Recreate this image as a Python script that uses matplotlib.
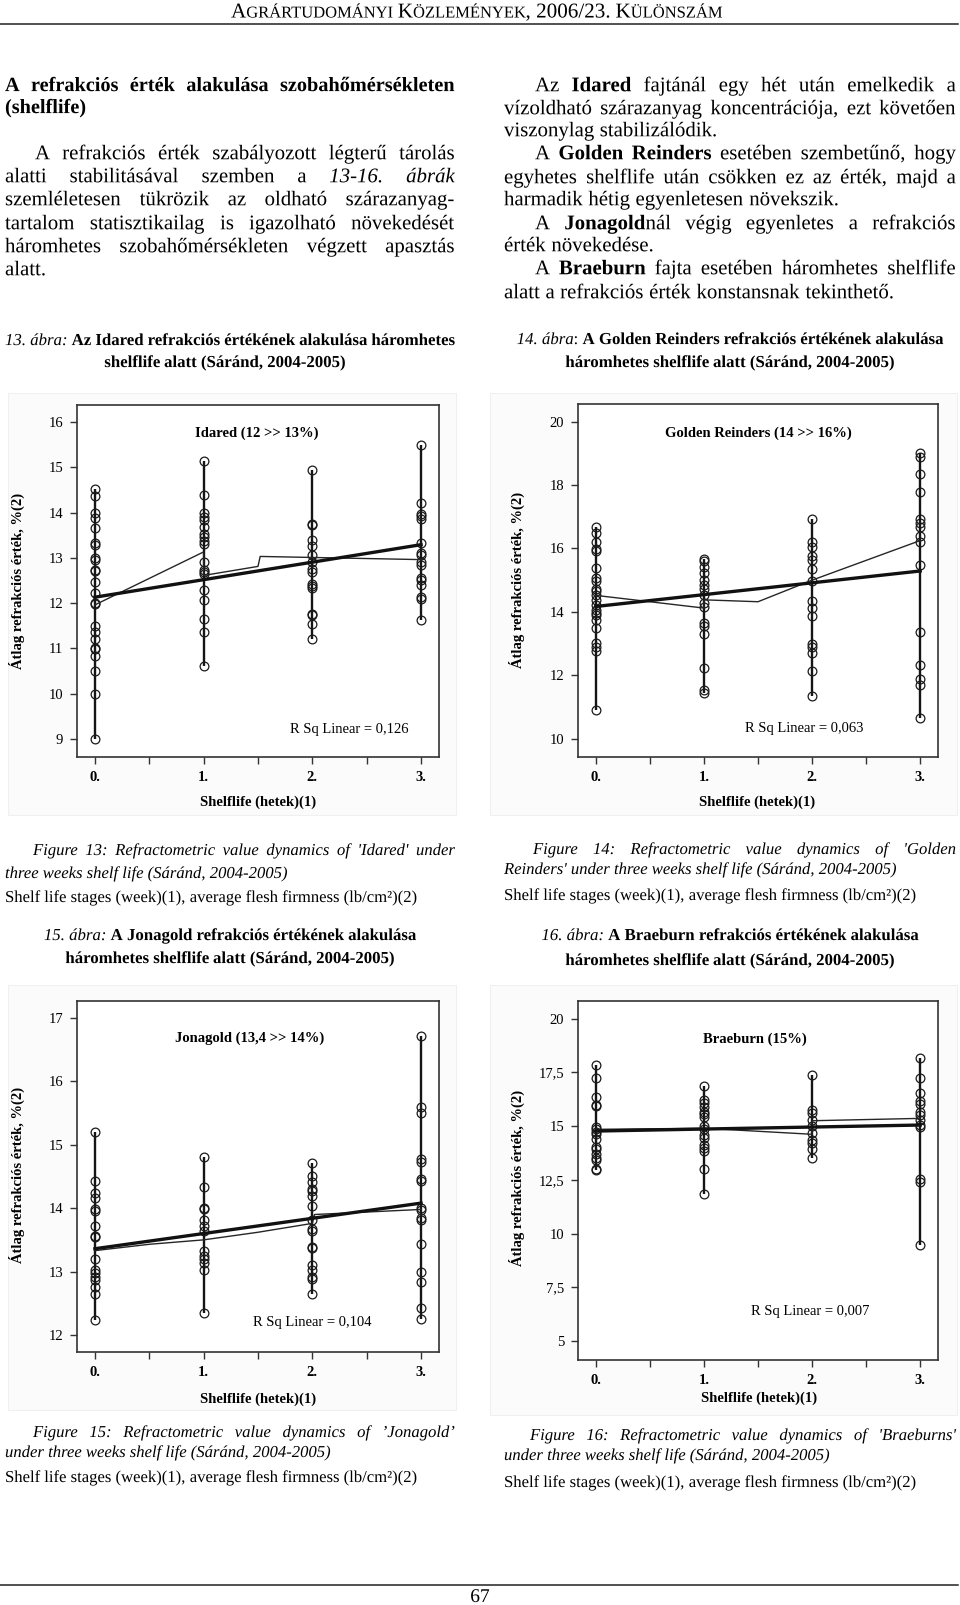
import matplotlib
matplotlib.use("Agg")
import matplotlib.pyplot as plt
from matplotlib.patches import Rectangle, PathPatch
from matplotlib.textpath import TextPath
from matplotlib.font_manager import FontProperties
from matplotlib.transforms import Affine2D

W, H = 960, 1605
SERIF = ["Liberation Serif", "DejaVu Serif"]

# ---------------------------------------------------------------- data
WEEKS = [0, 1, 2, 3]
XTICKS = [0, 0.5, 1, 1.5, 2, 2.5, 3]
XTICK_LABELS = ["0.", "", "1.", "", "2.", "", "3."]

IDARED = [
    [14.53, 14.36, 14.00, 13.87, 13.65, 13.32, 13.29, 12.99, 12.95, 12.74, 12.71, 12.46,
     12.23, 12.00, 11.98, 11.50, 11.36, 11.20, 11.00, 10.99, 10.84, 10.49, 10.00, 9.00],
    [15.13, 14.39, 14.00, 13.91, 13.83, 13.68, 13.52, 13.45, 13.36, 13.30, 12.91, 12.74,
     12.68, 12.64, 12.29, 12.07, 11.64, 11.36, 10.62],
    [14.95, 13.74, 13.72, 13.40, 13.27, 13.07, 12.90, 12.76, 12.68, 12.42, 12.37, 12.33,
     11.76, 11.73, 11.54, 11.20],
    [15.50, 14.22, 13.97, 13.93, 13.86, 13.33, 13.10, 13.06, 12.90, 12.85, 12.56, 12.50,
     12.40, 12.13, 12.09, 11.63],
]
IDARED_FIT = [12.13, 13.29]
IDARED_MEAN_X = [0, 1, 1, 1.5, 1.52, 3]
IDARED_MEAN_Y = [11.96, 13.13, 12.61, 12.81, 13.03, 12.96]

GOLDEN = [
    [16.69, 16.50, 16.19, 15.98, 15.93, 15.40, 15.06, 14.99, 14.73, 14.66, 14.52, 14.36,
     14.22, 14.07, 13.98, 13.91, 13.75, 13.50, 13.01, 12.89, 12.78, 10.89],
    [15.67, 15.59, 15.43, 15.22, 15.01, 14.85, 14.72, 14.54, 14.28, 14.15, 13.64, 13.54,
     13.31, 12.23, 11.52, 11.44],
    [16.92, 16.19, 16.06, 15.77, 15.64, 15.35, 14.96, 14.33, 14.12, 13.86, 13.00, 12.89,
     12.70, 12.12, 11.33],
    [19.02, 18.90, 18.34, 17.79, 16.92, 16.80, 16.67, 16.38, 16.19, 15.48, 13.35, 12.33,
     11.89, 11.70, 10.65],
]
GOLDEN_FIT = [14.17, 15.29]
GOLDEN_MEAN_X = [0, 1, 1, 1.5, 2, 3]
GOLDEN_MEAN_Y = [14.52, 14.12, 14.38, 14.32, 15.00, 16.25]

JONAGOLD = [
    [15.20, 14.43, 14.24, 14.16, 13.99, 13.96, 13.72, 13.56, 13.55, 13.20, 13.02, 12.98,
     12.91, 12.87, 12.76, 12.65, 12.23],
    [14.80, 14.33, 14.00, 13.99, 13.82, 13.72, 13.64, 13.32, 13.24, 13.19, 13.13, 13.03,
     12.34],
    [14.71, 14.51, 14.41, 14.30, 14.27, 14.20, 14.03, 13.81, 13.67, 13.64, 13.39, 13.37,
     13.10, 13.03, 12.92, 12.89, 12.65],
    [16.71, 15.59, 15.50, 14.77, 14.73, 14.46, 14.43, 14.01, 13.97, 13.85, 13.81, 13.43,
     13.00, 12.83, 12.42, 12.25],
]
JONAGOLD_FIT = [13.36, 14.08]
JONAGOLD_MEAN_X = [0, 0.5, 1, 1.5, 2, 2.02, 3]
JONAGOLD_MEAN_Y = [13.33, 13.43, 13.50, 13.62, 13.76, 13.90, 13.98]

BRAEBURN = [
    [17.84, 17.25, 16.35, 16.00, 15.95, 14.97, 14.85, 14.74, 14.62, 14.38, 14.04, 13.95,
     13.70, 13.53, 13.44, 12.99, 12.96],
    [16.87, 16.22, 16.06, 15.91, 15.67, 15.56, 15.41, 15.01, 14.85, 14.59, 14.43, 14.12,
     13.97, 13.84, 12.99, 11.83],
    [17.36, 15.75, 15.63, 15.28, 15.01, 14.66, 14.35, 14.20, 13.92, 13.53],
    [18.15, 17.25, 16.53, 16.17, 16.01, 15.67, 15.52, 15.28, 15.05, 14.97, 12.52, 12.41,
     9.47],
]
BRAEBURN_FIT = [14.77, 15.05]
BRAEBURN_MEAN_X = [0, 1, 2, 2, 3]
BRAEBURN_MEAN_Y = [14.85, 14.90, 14.62, 15.25, 15.36]

fig = plt.figure(figsize=(W / 100, H / 100), dpi=100)
renderer = fig.canvas.get_renderer()


# ---------------------------------------------------------------- text helpers (pixel coords, y from top)
def fprop(bold=False, italic=False):
    return FontProperties(family=SERIF, weight="bold" if bold else "normal",
                          style="italic" if italic else "normal")


def put(s, x, y, size, bold=False, italic=False, **kw):
    return fig.text(x / W, 1 - y / H, s, fontsize=size, fontproperties=None,
                    family=SERIF, fontweight="bold" if bold else "normal",
                    fontstyle="italic" if italic else "normal",
                    ha=kw.pop("ha", "left"), va=kw.pop("va", "baseline"), **kw)


def text_w(s, size, bold=False, italic=False):
    t = put(s, 0, 0, size, bold, italic)
    w = t.get_window_extent(renderer).width
    t.remove()
    return w


def glyphs(s, x, yb, size, bold=False, italic=False):
    """Draw a run as outline glyphs with its baseline exactly at pixel row yb."""
    tp = TextPath((0, 0), s, size=size * 100 / 72, prop=fprop(bold, italic))
    fig.add_artist(PathPatch(tp, transform=Affine2D().translate(x, H - yb),
                             fc="black", ec="none", lw=0))


def parse(line):
    """'*' toggles bold, '_' toggles italic; returns words as lists of runs."""
    words, cur, buf = [], [], ""
    b = i = False
    for ch in line + " ":
        if ch in "*_ " and buf:
            cur.append((buf, b, i))
            buf = ""
        if ch == "*":
            b = not b
        elif ch == "_":
            i = not i
        elif ch == " ":
            if cur:
                words.append(cur)
            cur = []
        else:
            buf += ch
    return words


def draw_line(line, y, size, x0, x1=None, mode="left"):
    words = parse(line)
    widths = [sum(text_w(t, size, b, i) for t, b, i in w) for w in words]
    if mode == "justify":
        gap = (x1 - x0 - sum(widths)) / (len(words) - 1)
    else:
        gap = text_w("a a", size) - text_w("aa", size)
    total = sum(widths) + gap * (len(words) - 1)
    x = x0 - total / 2 if mode == "center" else x0
    base = y + 0.3 * size * 100 / 72
    for w, ww in zip(words, widths):
        xx = x
        for t, b, i in w:
            glyphs(t, xx, base, size, b, i)
            xx += text_w(t, size, b, i)
        x += ww + gap


def small_caps(line, x, y, big, small):
    space = text_w("a a", big) - text_w("aa", big)
    for word in line.split(" "):
        runs, cur, cur_small = [], "", None
        for ch in word:
            is_small = ch.islower()
            if cur and is_small != cur_small:
                runs.append((cur, cur_small))
                cur = ""
            cur += ch.upper()
            cur_small = is_small
        runs.append((cur, cur_small))
        for t, sm in runs:
            glyphs(t, x, y, small if sm else big)
            x += text_w(t, small if sm else big)
        x += space


# ---------------------------------------------------------------- page furniture
small_caps("Agrártudományi Közlemények, 2006/23. Különszám", 231, 17.5, 15.2, 11.9)
fig.add_artist(plt.Line2D([0, 958 / W], [1 - 24 / H] * 2, color="#222", lw=1.1))
fig.add_artist(plt.Line2D([0, 958 / W], [1 - 1585 / H] * 2, color="#222", lw=1.1))
glyphs("67", 480 - text_w("67", 14) / 2, 1602, 14)

BODY = 15
HEAD = 14.6
draw_line("*A refrakciós érték alakulása szobahőmérsékleten*", 85, HEAD, 5, 455, "justify")
draw_line("*(shelflife)*", 107, HEAD, 5)
draw_line("A refrakciós érték szabályozott légterű tárolás", 153, BODY, 35, 455, "justify")
draw_line("alatti stabilitásával szemben a _13-16. ábrák_", 176, BODY, 5, 455, "justify")
draw_line("szemléletesen tükrözik az oldható szárazanyag-", 199, BODY, 5, 455, "justify")
draw_line("tartalom statisztikailag is igazolható növekedését", 223, BODY, 5, 455, "justify")
draw_line("háromhetes szobahőmérsékleten végzett apasztás", 246, BODY, 5, 455, "justify")
draw_line("alatt.", 269, BODY, 5)

draw_line("Az *Idared* fajtánál egy hét után emelkedik a", 85, BODY, 535, 956, "justify")
draw_line("vízoldható szárazanyag koncentrációja, ezt követően", 108, BODY, 504, 956, "justify")
draw_line("viszonylag stabilizálódik.", 130, BODY, 504)
draw_line("A *Golden Reinders* esetében szembetűnő, hogy", 153, BODY, 535, 956, "justify")
draw_line("egyhetes shelflife után csökken ez az érték, majd a", 177, BODY, 504, 956, "justify")
draw_line("harmadik hétig egyenletesen növekszik.", 199, BODY, 504)
draw_line("A *Jonagold*nál végig egyenletes a refrakciós", 223, BODY, 535, 956, "justify")
draw_line("érték növekedése.", 245, BODY, 504)
draw_line("A *Braeburn* fajta esetében háromhetes shelflife", 268, BODY, 535, 956, "justify")
draw_line("alatt a refrakciós érték konstansnak tekinthető.", 292, BODY, 504)

CAP = 12.1
draw_line("_13. ábra:_ *Az Idared refrakciós értékének alakulása háromhetes*", 340, CAP, 5, 455, "justify")
draw_line("*shelflife alatt (Sáránd, 2004-2005)*", 362, CAP, 225, mode="center")
draw_line("_14. ábra_: *A Golden Reinders refrakciós értékének alakulása*", 339, CAP, 730, mode="center")
draw_line("*háromhetes shelflife alatt (Sáránd, 2004-2005)*", 362, CAP, 730, mode="center")
draw_line("_15. ábra:_ *A Jonagold refrakciós értékének alakulása*", 935, CAP, 230, mode="center")
draw_line("*háromhetes shelflife alatt (Sáránd, 2004-2005)*", 958, CAP, 230, mode="center")
draw_line("_16. ábra:_ *A Braeburn refrakciós értékének alakulása*", 935, CAP, 730, mode="center")
draw_line("*háromhetes shelflife alatt (Sáránd, 2004-2005)*", 960, CAP, 730, mode="center")

EN = 12
UNITS = "Shelf life stages (week)(1),  average flesh firmness (lb/cm²)(2)"
draw_line("_Figure 13: Refractometric value dynamics of 'Idared' under_", 850, EN, 33, 455, "justify")
draw_line("_three weeks shelf life (Sáránd, 2004-2005)_", 873, EN, 5)
draw_line(UNITS, 897, EN, 5)
draw_line("_Figure 14: Refractometric value dynamics of 'Golden_", 849, EN, 533, 956, "justify")
draw_line("_Reinders' under three weeks shelf life (Sáránd, 2004-2005)_", 869, EN, 504)
draw_line(UNITS, 895, EN, 504)
draw_line("_Figure 15: Refractometric value dynamics of ’Jonagold’_", 1432, EN, 33, 455, "justify")
draw_line("_under three weeks shelf life (Sáránd, 2004-2005)_", 1452, EN, 5)
draw_line(UNITS, 1477, EN, 5)
draw_line("_Figure 16: Refractometric value dynamics of 'Braeburns'_", 1435, EN, 530, 956, "justify")
draw_line("_under three weeks shelf life (Sáránd, 2004-2005)_", 1455, EN, 504)
draw_line(UNITS, 1482, EN, 504)


# ---------------------------------------------------------------- charts
def chart(rect, frame, data, fit, mean_x, mean_y, ylim, yticks, ylabels,
          title, title_pos, rsq, rsq_pos, ylab_xy, xlab_xy):
    fl, ft, fr, fb = frame
    fig.add_artist(Rectangle((fl / W, 1 - fb / H), (fr - fl) / W, (fb - ft) / H,
                             transform=fig.transFigure, facecolor="#fbfbfb",
                             edgecolor="#f0f0f0", lw=0.8, zorder=0))
    l, t, r, b = rect
    ax = fig.add_axes([l / W, 1 - b / H, (r - l) / W, (b - t) / H])
    for wk, vals in zip(WEEKS, data):
        ax.vlines(wk, min(vals), max(vals), color="#151515", lw=1.7, zorder=2)
        ax.plot([wk] * len(vals), vals, "o", mfc="none", mec="#1a1a1a", ms=6.3,
                mew=0.9, zorder=3)
    ax.plot(mean_x, mean_y, color="#262626", lw=1.0, zorder=4)
    ax.plot([WEEKS[0], WEEKS[-1]], fit, color="#111", lw=2.4, zorder=4)
    ax.set_xlim(-0.165, 3.165)
    ax.set_ylim(ylim)
    ax.set_xticks(XTICKS)
    ax.set_xticklabels(XTICK_LABELS, fontsize=10.5, fontweight="bold", family=SERIF)
    ax.set_yticks(yticks)
    ax.set_yticklabels(ylabels, fontsize=10.5, family=SERIF)
    ax.tick_params(direction="out", length=5, width=1, color="#333", pad=5)
    for s in ax.spines.values():
        s.set_linewidth(1.2)
        s.set_color("#333")
    ax.text(*title_pos, title, transform=ax.transAxes, ha="center", va="center",
            fontsize=10.5, fontweight="bold", family=SERIF,
            bbox=dict(fc="white", ec="none", pad=2))
    ax.text(*rsq_pos, rsq, transform=ax.transAxes, ha="center", va="center",
            fontsize=10.5, family=SERIF, bbox=dict(fc="white", ec="none", pad=2))
    put("Átlag refrakciós érték, %(2)", ylab_xy[0], ylab_xy[1], 10.5, bold=True,
        rotation=90, ha="center", va="center")
    put("Shelflife (hetek)(1)", xlab_xy[0], xlab_xy[1], 10.5, bold=True,
        ha="center", va="center")
    return ax


chart((77, 405, 439, 757), (8, 393, 456, 815), IDARED, IDARED_FIT,
      IDARED_MEAN_X, IDARED_MEAN_Y, (8.6, 16.375),
      [9, 10, 11, 12, 13, 14, 15, 16], ["9", "10", "11", "12", "13", "14", "15", "16"],
      "Idared (12 >> 13%)", (0.497, 0.92), "R Sq Linear = 0,126", (0.751, 0.077),
      (17, 581), (258, 802))
chart((578, 404, 938, 757), (490, 393, 957, 815), GOLDEN, GOLDEN_FIT,
      GOLDEN_MEAN_X, GOLDEN_MEAN_Y, (9.42, 20.56),
      [10, 12, 14, 16, 18, 20], ["10", "12", "14", "16", "18", "20"],
      "Golden Reinders (14 >> 16%)", (0.5, 0.918), "R Sq Linear = 0,063", (0.628, 0.082),
      (517, 580), (757, 802))
chart((77, 1001, 439, 1352), (8, 985, 456, 1410), JONAGOLD, JONAGOLD_FIT,
      JONAGOLD_MEAN_X, JONAGOLD_MEAN_Y, (11.73, 17.27),
      [12, 13, 14, 15, 16, 17], ["12", "13", "14", "15", "16", "17"],
      "Jonagold (13,4 >> 14%)", (0.478, 0.895), "R Sq Linear = 0,104", (0.649, 0.085),
      (17, 1175), (258, 1399))
chart((578, 1001, 938, 1360), (490, 985, 957, 1415), BRAEBURN, BRAEBURN_FIT,
      BRAEBURN_MEAN_X, BRAEBURN_MEAN_Y, (4.12, 20.82),
      [5, 7.5, 10, 12.5, 15, 17.5, 20], ["5", "7,5", "10", "12,5", "15", "17,5", "20"],
      "Braeburn (15%)", (0.492, 0.894), "R Sq Linear = 0,007", (0.644, 0.134),
      (517, 1178), (759, 1398))

fig.savefig("out.png", dpi=100)
